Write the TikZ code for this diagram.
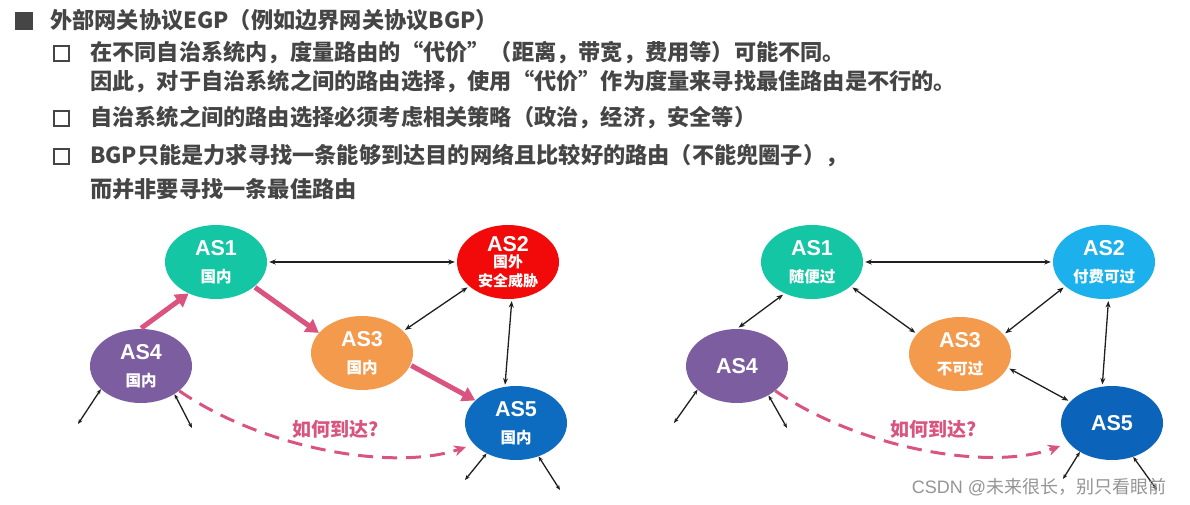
\documentclass[tikz,border=0pt]{standalone}
\usepackage{fontspec}
\setmainfont{Liberation Sans}
\newfontfamily\cjk{Noto Sans CJK SC}
\usetikzlibrary{shapes.geometric,arrows.meta}
\definecolor{txtgray}{HTML}{454545}
\definecolor{teal1}{HTML}{14C6A4}
\definecolor{red1}{HTML}{F20A0A}
\definecolor{orange1}{HTML}{F39A4C}
\definecolor{purple1}{HTML}{7C5EA0}
\definecolor{blue5}{HTML}{0D6CC0}
\definecolor{blue2}{HTML}{1CB0EC}
\definecolor{blue5b}{HTML}{0B64B9}
\definecolor{pink1}{HTML}{D9557F}
\tikzset{
  line/.style={anchor=west, text=txtgray, font=\cjk\bfseries\fontsize{22.2}{26}\selectfont, inner sep=0pt},
  as/.style={ellipse, minimum width=102pt, minimum height=74pt, inner sep=0pt, text=white, align=center,
     font=\cjk\bfseries\fontsize{15.5}{27}\selectfont},
  biarrow/.style={{Stealth[length=6.5pt,width=5pt]}-{Stealth[length=6.5pt,width=5pt]}, line width=1.3pt, draw=black!88, shorten <=2pt, shorten >=2pt},
  stub/.style={{Stealth[length=5pt,width=4pt]}-{Stealth[length=5pt,width=4pt]}, line width=1.3pt, draw=black!88},
  route/.style={-{Triangle[length=13pt,width=15pt]}, line width=5pt, draw=pink1, shorten <=1pt},
  ask/.style={-{Stealth[length=12pt,width=11pt]}, line width=3pt, draw=pink1, dash pattern=on 15pt off 9pt},
  asklabel/.style={text=pink1, font=\cjk\bfseries\fontsize{19}{19}\selectfont},
}
\newcommand{\asn}[1]{{\fontsize{21.5}{27}\selectfont\rmfamily\bfseries #1}}
\begin{document}
\begin{tikzpicture}[x=1pt,y=-1pt]
\useasboundingbox (0,0) rectangle (1190,505);
% bullets and text
\fill[txtgray] (15,12) rectangle (33,30);
\node[line] (t1) at (50,20) {外部网关协议EGP（例如边界网关协议BGP）};
\draw[txtgray, line width=2pt] (54,46) rectangle (69,61);
\node[line] (t2) at (90,53) {在不同自治系统内，度量路由的“代价”（距离，带宽，费用等）可能不同。};
\node[line] (t3) at (90,82) {因此，对于自治系统之间的路由选择，使用“代价”作为度量来寻找最佳路由是不行的。};
\draw[txtgray, line width=2pt] (54,111) rectangle (69,126);
\node[line] (t4) at (90,118) {自治系统之间的路由选择必须考虑相关策略（政治，经济，安全等）};
\draw[txtgray, line width=2pt] (54,149) rectangle (69,164);
\node[line] (t5) at (90,156) {BGP只能是力求寻找一条能够到达目的网络且比较好的路由（不能兜圈子），};
\node[line] (t6) at (90,189) {而并非要寻找一条最佳路由};

% left diagram
\node[as, fill=teal1] (a1) at (216,262) {\asn{AS1}\\国内};
\node[as, fill=red1, font=\cjk\bfseries\fontsize{15}{19}\selectfont] (a2) at (508,262) {\asn{AS2}\\[-3pt]国外\\安全威胁};
\node[as, fill=orange1] (a3) at (362,353) {\asn{AS3}\\国内};
\node[as, fill=purple1] (a4) at (141,366) {\asn{AS4}\\国内};
\node[as, fill=blue5] (a5) at (516,423) {\asn{AS5}\\国内};

\draw[biarrow] (a1.east) -- (a2.west);
\draw[biarrow] (a2.212) -- (a3.28);
\draw[biarrow] (a2.276) -- (a5.107);
\draw[route] (a4.91) -- (a1.229);
\draw[route] (a1.327) -- (a3.155);
\draw[route] (a3.346) -- (a5.151);

\coordinate (l4a) at (78,424);
\coordinate (l4b) at (192,428);
\coordinate (l5a) at (465,480);
\coordinate (l5b) at (560,490);
\draw[stub] (a4.210) -- (l4a);
\draw[stub] (a4.320) -- (l4b);
\draw[stub] (a5.226) -- (l5a);
\draw[stub] (a5.304) -- (l5b);

\coordinate (e1) at (466,447);
\draw[ask] (a4.327) .. controls (262,448) and (392,472) .. (e1);
\node[asklabel] (q1) at (336,429) {如何到达?};

% right diagram
\node[as, fill=teal1] (b1) at (812,262) {\asn{AS1}\\随便过};
\node[as, fill=blue2] (b2) at (1104,262) {\asn{AS2}\\付费可过};
\node[as, fill=orange1] (b3) at (960,354) {\asn{AS3}\\不可过};
\node[as, fill=purple1] (b4) at (737,366) {\asn{AS4}};
\node[as, fill=blue5b] (b5) at (1112,423) {\asn{AS5}};

\draw[biarrow] (b1.east) -- (b2.west);
\draw[biarrow] (b1.229) -- (b4.90);
\draw[biarrow] (b1.328) -- (b3.155);
\draw[biarrow] (b2.212) -- (b3.24);
\draw[biarrow] (b2.277) -- (b5.105);
\draw[biarrow] (b3.344) -- (b5.153);

\coordinate (r4a) at (674,423);
\coordinate (r4b) at (787,428);
\coordinate (r5a) at (1063,479);
\coordinate (r5b) at (1157,490);
\draw[stub] (b4.211) -- (r4a);
\draw[stub] (b4.317) -- (r4b);
\draw[stub] (b5.222) -- (r5a);
\draw[stub] (b5.302) -- (r5b);

\coordinate (e2) at (1060,446);
\draw[ask] (b4.327) .. controls (859,448) and (989,472) .. (e2);
\node[asklabel] (q2) at (934,429) {如何到达?};

% watermark
\node[text=black!42, font=\fontsize{18}{18}\selectfont, inner sep=0pt] (wm) at (1039,487) {CSDN @{\cjk 未来很长，别只看眼前}};
\end{tikzpicture}
\end{document}
